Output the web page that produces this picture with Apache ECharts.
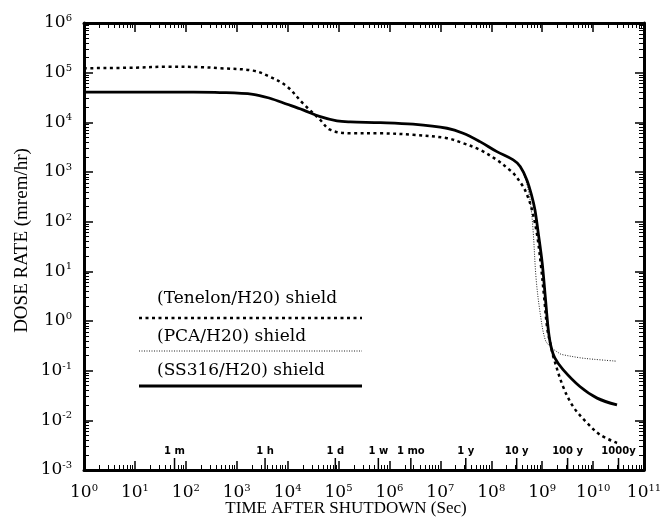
<!DOCTYPE html>
<html>
<head>
<meta charset="utf-8">
<script src="https://cdn.jsdelivr.net/npm/echarts@6/dist/echarts.min.js"></script>
<style>
html, body { margin: 0; padding: 0; background: #fff; }
#chart { width: 660px; height: 520px; }
</style>
</head>
<body>
<div id="chart"></div>
<script>
// time after shutdown (sec) vs dose rate (mrem/hr)
var ss316Time = [1, 10, 100, 468, 2090, 4470, 9770, 2.0e4, 4.37e4, 9.3e4, 1.7e5, 6.6e5, 2.9e6, 1.35e7, 2.8e7, 6.0e7, 1.29e8, 2.7e8, 3.7e8, 5.0e8, 6.3e8, 7.2e8, 8.3e8, 1.0e9, 1.15e9, 1.32e9, 1.48e9, 1.78e9, 2.57e9, 5.5e9, 1.2e10, 2.95e10];
var ss316Dose = [4.07e4, 4.07e4, 4.05e4, 3.98e4, 3.67e4, 3.05e4, 2.31e4, 1.78e4, 1.30e4, 1.07e4, 1.02e4, 9860, 9160, 7600, 6040, 4090, 2570, 1750, 1290, 692, 316, 174, 63, 14.8, 3.1, 0.66, 0.316, 0.178, 0.105, 0.048, 0.028, 0.0204];

var pcaTime = [1, 10, 100, 468, 2090, 4470, 9770, 2.0e4, 4.37e4, 9.3e4, 1.7e5, 6.6e5, 2.9e6, 1.35e7, 2.8e7, 6.0e7, 1.29e8, 2.7e8, 3.7e8, 4.8e8, 5.75e8, 6.6e8, 7.6e8, 9.1e8, 1.15e9, 1.48e9, 2.24e9, 2.57e9, 5.5e9, 1.0e10, 2.95e10];
var pcaDose = [4.07e4, 4.07e4, 4.05e4, 3.98e4, 3.67e4, 3.05e4, 2.31e4, 1.78e4, 1.30e4, 1.07e4, 1.02e4, 9860, 9160, 7600, 6040, 4090, 2570, 1750, 1290, 661, 282, 71, 7.1, 1.48, 0.417, 0.30, 0.219, 0.209, 0.182, 0.170, 0.155];

var tenelonTime = [1, 10, 43, 200, 468, 2090, 4470, 9770, 2.0e4, 4.37e4, 6.8e4, 1.7e5, 6.6e5, 2.9e6, 1.35e7, 2.8e7, 6.0e7, 1.29e8, 2.3e8, 2.7e8, 4.2e8, 5.2e8, 6.3e8, 7.9e8, 9.5e8, 1.1e9, 1.26e9, 1.48e9, 1.66e9, 2.57e9, 4.1e9, 7.6e9, 1.38e10, 2.95e10];
var tenelonDose = [1.23e5, 1.26e5, 1.32e5, 1.29e5, 1.23e5, 1.10e5, 8.3e4, 5.25e4, 2.4e4, 1.12e4, 7100, 6000, 6000, 5600, 4800, 3800, 2790, 1750, 1100, 955, 513, 320, 174, 56, 12.6, 2.8, 0.7, 0.316, 0.19, 0.048, 0.0186, 0.0089, 0.0051, 0.0035];

// time landmarks along the bottom axis
var markerTime = [60, 3600, 86400, 604800, 2.63e6, 3.156e7, 3.156e8, 3.156e9, 3.156e10];
var markerLabel = ["1 m", "1 h", "1 d", "1 w", "1 mo", "1 y", "10 y", "100 y", "1000y"];

var legendNames = ["(Tenelon/H20) shield", "(PCA/H20) shield", "(SS316/H20) shield"];

function pairs(t, d) {
    return t.map(function (v, i) { return [v, d[i]]; });
}

var serif = "DejaVu Serif";
var times = "Liberation Serif";

function powLabel(v) {
    var e = Math.round(Math.log(v) / Math.LN10);
    return "10{s|" + e + "}";
}

var labelStyle = {
    color: "#000",
    fontFamily: serif,
    fontSize: 17,
    formatter: powLabel,
    rich: {
        s: { fontSize: 10, fontFamily: serif, padding: [0, 0, 9, 0] },
    },
};

function makeAxis(pos, min, max, withLabel) {
    return {
        type: "log",
        logBase: 10,
        position: pos,
        min: min,
        max: max,
        interval: 1,
        axisLine: { show: true, onZero: false, lineStyle: { color: "#000", width: 3 } },
        axisTick: { show: true, inside: true, length: 9, lineStyle: { color: "#000", width: 1.5 } },
        minorTick: { show: true, splitNumber: 9, length: 5, lineStyle: { color: "#000", width: 1 } },
        splitLine: { show: false },
        minorSplitLine: { show: false },
        axisLabel: withLabel ? Object.assign({ margin: 10 }, labelStyle) : { show: false },
    };
}

// tall tick with a label above it, standing on the bottom axis
function renderMarker(params, api) {
    var p = api.coord([api.value(0), api.value(1)]);
    return {
        type: "group",
        children: [
            {
                type: "line",
                shape: { x1: p[0], y1: p[1], x2: p[0], y2: p[1] - 12 },
                style: { stroke: "#000", lineWidth: 1.5 },
            },
            {
                type: "text",
                x: p[0],
                y: p[1] - 14,
                style: {
                    text: markerLabel[params.dataIndex],
                    align: "center",
                    verticalAlign: "bottom",
                    font: "bold 10px 'DejaVu Sans'",
                    fill: "#000",
                },
            },
        ],
    };
}

var chart = echarts.init(document.getElementById("chart"));

var xBottom = makeAxis("bottom", 1, 1e11, true);
xBottom.axisLabel.margin = 13;
xBottom.name = "TIME AFTER SHUTDOWN (Sec)";
xBottom.nameLocation = "middle";
xBottom.nameGap = 30;
xBottom.nameMoveOverlap = false;
xBottom.nameTextStyle = { color: "#000", fontFamily: times, fontSize: 17, padding: [0, 36, 0, 0] };

var yLeft = makeAxis("left", 1e-3, 1e6, true);
yLeft.axisLabel.margin = 12;
yLeft.name = "DOSE RATE (mrem/hr)";
yLeft.nameLocation = "middle";
yLeft.nameGap = 52;
yLeft.nameMoveOverlap = false;
yLeft.nameTextStyle = { color: "#000", fontFamily: times, fontSize: 19, padding: [0, 0, 0, 12] };

var option = {
    animation: false,
    backgroundColor: "#fff",
    grid: { left: 84, right: 16, top: 23, bottom: 50, outerBoundsMode: "none" },
    xAxis: [xBottom, makeAxis("top", 1, 1e11, false)],
    yAxis: [yLeft, makeAxis("right", 1e-3, 1e6, false)],
    series: [
        {
            name: legendNames[1],
            type: "line",
            data: pairs(pcaTime, pcaDose),
            showSymbol: false,
            smooth: 0.35,
            lineStyle: { color: "#222", width: 1, type: [1, 1.5] },
            z: 2,
        },
        {
            name: legendNames[0],
            type: "line",
            data: pairs(tenelonTime, tenelonDose),
            showSymbol: false,
            smooth: 0.35,
            lineStyle: { color: "#000", width: 2.5, type: [3, 3.5] },
            z: 3,
        },
        {
            name: legendNames[2],
            type: "line",
            data: pairs(ss316Time, ss316Dose),
            showSymbol: false,
            smooth: 0.35,
            lineStyle: { color: "#000", width: 2.8 },
            z: 4,
        },
        {
            name: "markers",
            type: "custom",
            renderItem: renderMarker,
            data: markerTime.map(function (t) { return [t, 1e-3]; }),
            z: 5,
        },
    ],
    graphic: [
        { type: "text", left: 157, top: 290, style: { text: legendNames[0], font: "17px '" + serif + "'", fill: "#000" } },
        { type: "line", shape: { x1: 139, y1: 318, x2: 362, y2: 318 }, style: { stroke: "#000", lineWidth: 2.5, lineDash: [3, 3.5] } },
        { type: "text", left: 157, top: 328, style: { text: legendNames[1], font: "17px '" + serif + "'", fill: "#000" } },
        { type: "line", shape: { x1: 139, y1: 351, x2: 362, y2: 351 }, style: { stroke: "#222", lineWidth: 1, lineDash: [1, 1.5] } },
        { type: "text", left: 157, top: 362, style: { text: legendNames[2], font: "17px '" + serif + "'", fill: "#000" } },
        { type: "line", shape: { x1: 139, y1: 386, x2: 362, y2: 386 }, style: { stroke: "#000", lineWidth: 2.8 } },
    ],
};

chart.setOption(option);
</script>
</body>
</html>
